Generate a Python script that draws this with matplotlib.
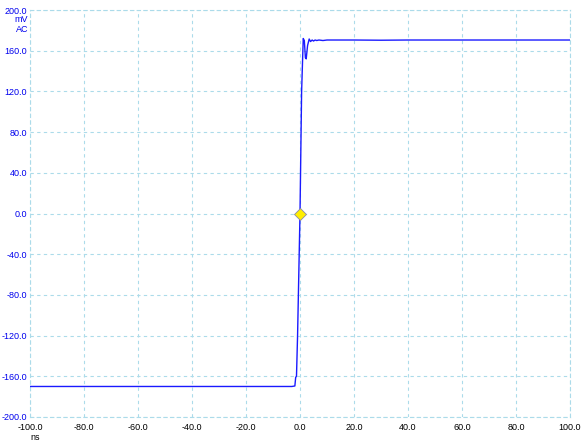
import matplotlib.pyplot as plt
import numpy as np

# waveform (time in ns, voltage in mV)
t_ns = [-100.0, -60.0, -40.0, -20.0, -3.0, -1.9, -1.6, -1.3, -0.9, 0.0, 0.6,
        1.2, 1.6, 2.0, 2.3, 2.8, 3.4, 3.9, 4.5, 5.0, 5.6, 6.2, 7.0, 8.5,
        10.0, 20.0, 30.0, 40.0, 60.0, 80.0, 100.0]
v_mv = [-170.0, -170.0, -170.0, -170.0, -170.0, -169.5, -161.0, -160.0, -120.0, 0.0, 120.0,
        172.0, 170.0, 153.0, 152.0, 165.0, 171.5, 169.0, 170.5, 169.5, 170.5, 170.0, 170.5, 170.0,
        170.5, 170.5, 170.3, 170.5, 170.5, 170.5, 170.5]

x_ticks = np.arange(-100, 101, 20)
y_ticks = np.arange(-200, 201, 40)
x_labels = ['%.1f' % v for v in x_ticks]
y_labels = ['%.1f' % v for v in y_ticks]

grid_col = '#acdbea'

fig = plt.figure(figsize=(5.84, 4.47), dpi=100)
ax = fig.add_axes([30/584, 30/447, 540/584, 407/447])

ax.plot(t_ns, v_mv, color='#1a1aff', lw=1.0, zorder=3)
ax.plot([0], [0], marker='D', ms=6, mfc='#ffee00', mec='#8888aa', mew=0.6, zorder=4)

ax.set_xlim(-100, 100)
ax.set_ylim(-200, 200)
ax.set_xticks(x_ticks)
ax.set_xticklabels(x_labels)
ax.set_yticks(y_ticks)
ax.set_yticklabels(y_labels)
ax.tick_params(length=0, labelsize=6.5, pad=2)
ax.tick_params(axis='y', colors='#0000ee', labelsize=6.5, pad=2)
ax.tick_params(axis='x', colors='black', pad=4)
for lab in ax.get_xticklabels() + ax.get_yticklabels():
    lab.set_fontfamily('Liberation Sans')

ax.grid(True, color=grid_col, ls=(0, (3, 3)), lw=0.8)
for sp in ax.spines.values():
    sp.set_color(grid_col)
    sp.set_linestyle((0, (3, 3)))
    sp.set_linewidth(0.8)

fig.text(28/584, 1 - 20/447, 'mV', ha='right', va='center', fontsize=6.5,
         color='#0000ee', family='Liberation Sans')
fig.text(28/584, 1 - 29/447, 'AC', ha='right', va='center', fontsize=6.5,
         color='#0000ee', family='Liberation Sans')
fig.text(35/584, 1 - 437/447, 'ns', ha='center', va='center', fontsize=6.5,
         color='black', family='Liberation Sans')

fig.savefig('out.png', dpi=100)
